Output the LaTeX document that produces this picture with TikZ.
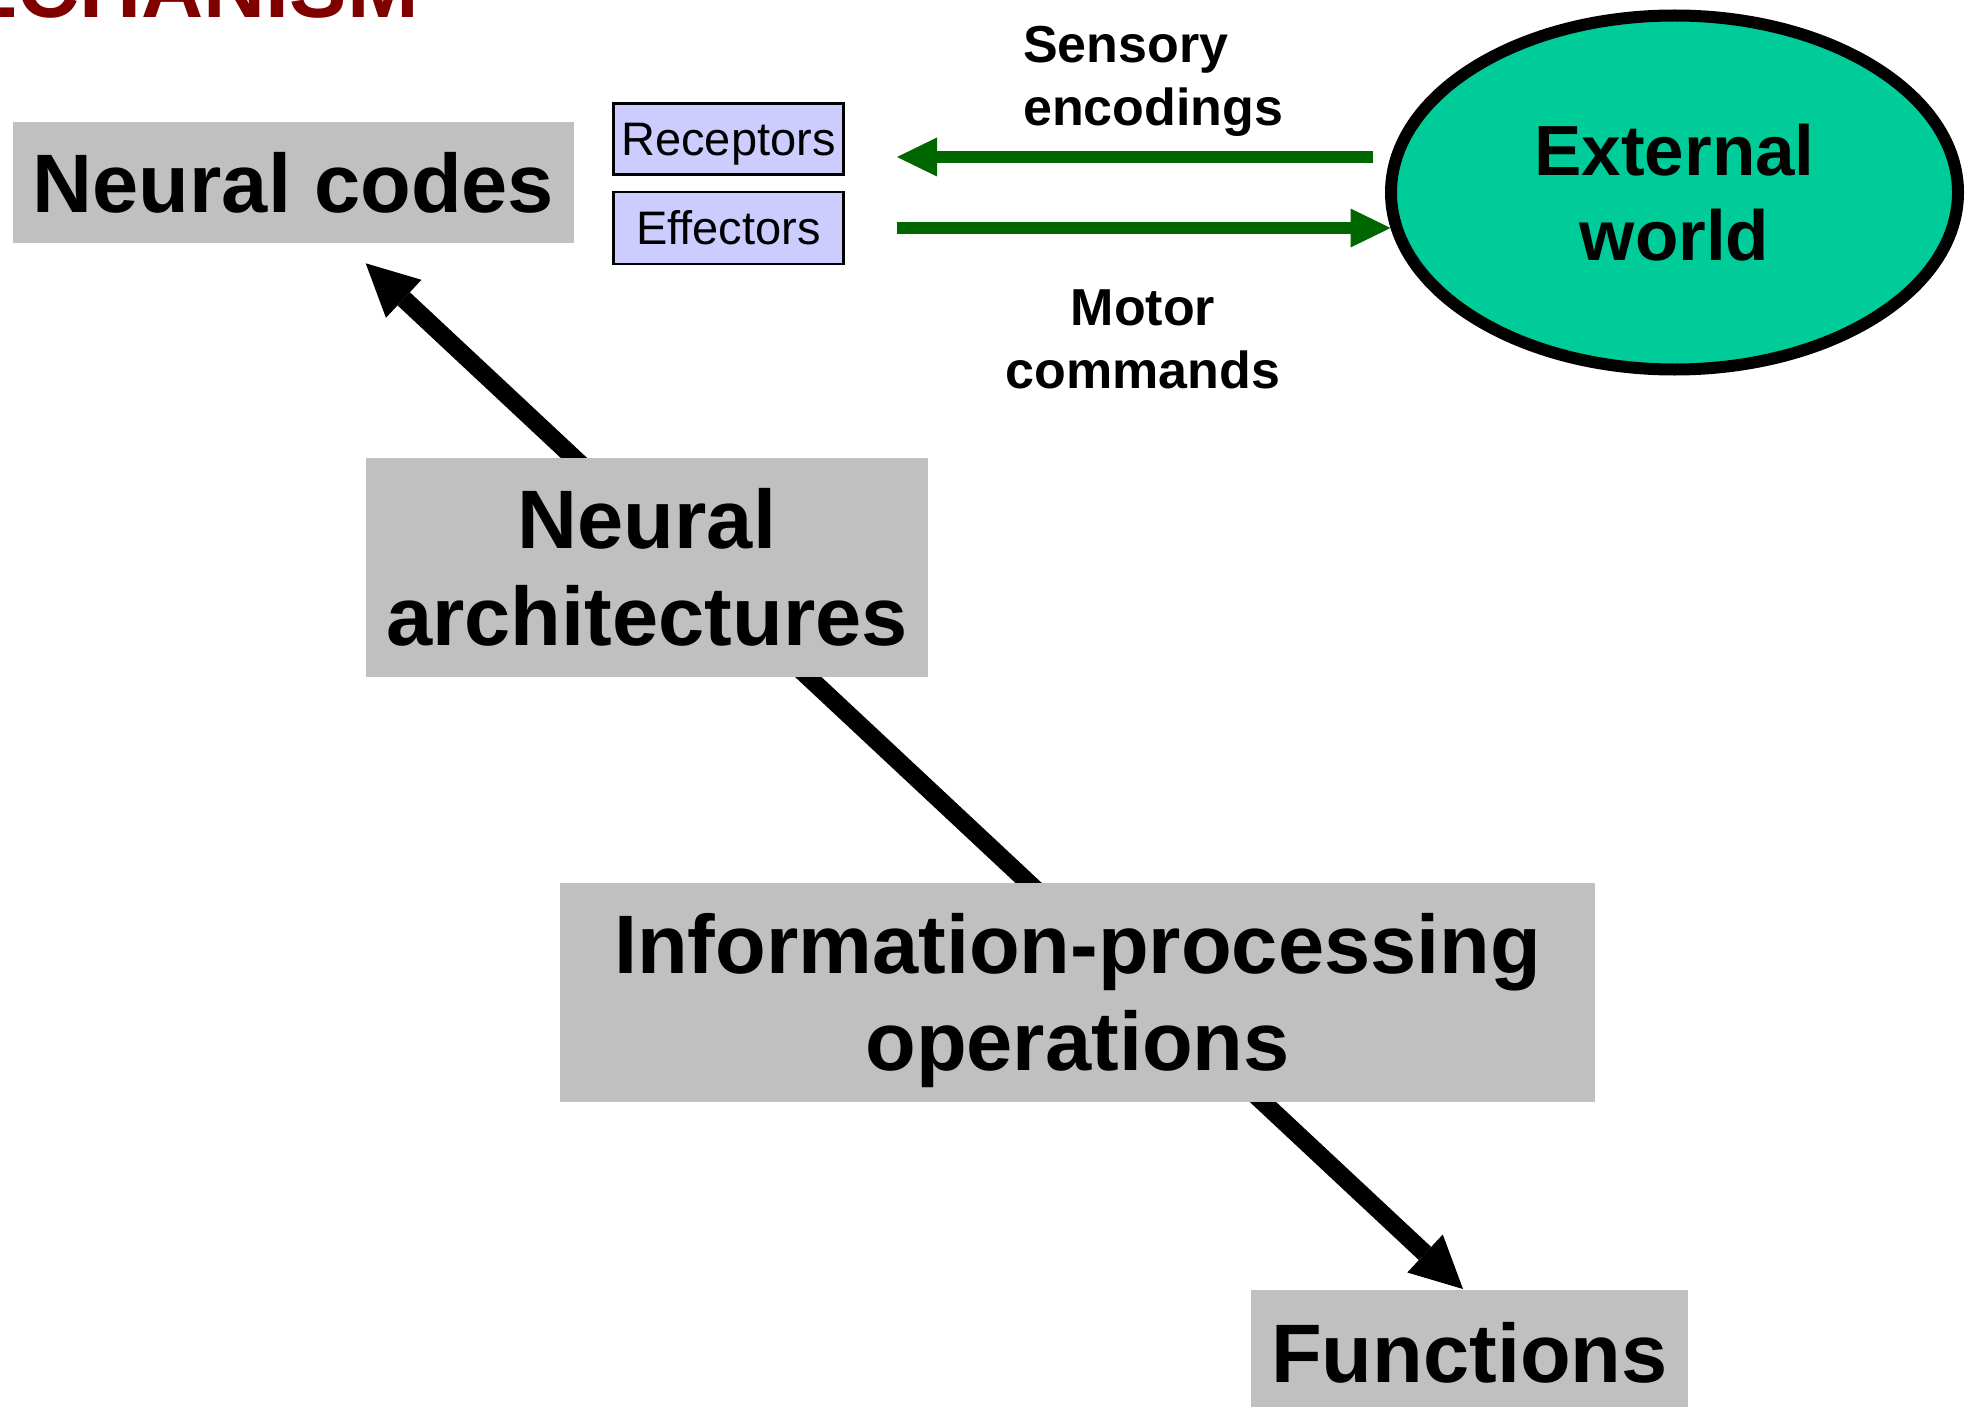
\documentclass[tikz,border=0pt]{standalone}
\usepackage{fontspec}
\setmainfont{Liberation Sans}
\usetikzlibrary{arrows.meta,shapes.geometric}

\definecolor{boxgray}{HTML}{C0C0C0}
\definecolor{organfill}{HTML}{CCCCFF}
\definecolor{signalgreen}{HTML}{006600}
\definecolor{worldfill}{HTML}{00CC99}
\definecolor{titlered}{HTML}{800000}

\tikzset{
  graybox/.style={fill=boxgray, inner sep=0pt, align=center,
    font=\fontsize{83}{97}\selectfont\bfseries,
    text height=59.4pt, text depth=0pt},
  twolines/.style={text height=156.4pt},
  organbox/.style={fill=organfill, draw=black, line width=2.5pt, inner sep=0pt,
    minimum width=230pt, minimum height=71pt,
    font=\fontsize{47}{56}\selectfont, text height=33.7pt, text depth=0pt},
  sidelabel/.style={inner sep=0pt, font=\fontsize{52}{63}\selectfont\bfseries,
    text height=100.2pt, text depth=0pt},
  signal/.style={draw=signalgreen, line width=12.7pt,
    -{Triangle[length=40pt,width=39pt,line width=0pt]}},
  levelarrow/.style={draw=black, line width=18pt,
    {Triangle[length=52pt,width=52pt,line width=0pt]}-{Triangle[length=52pt,width=52pt,line width=0pt]}},
}

\begin{document}
\begin{tikzpicture}[x=1pt,y=-1pt]
\useasboundingbox (0,0) rectangle (1977,1407);
\clip (0,0) rectangle (1977,1407);

% heading, partly above the page edge
\node[anchor=base east, inner sep=0pt, text=titlered,
  font=\fontsize{86}{100}\selectfont\bfseries] (heading) at (419,18) {MECHANISM};

% the long two-headed arrow runs behind the level boxes
\coordinate (codestip) at (365.7,263.3);
\coordinate (functip) at (1463,1289);
\draw[levelarrow] (codestip) -- (functip);

% levels
\node[graybox, minimum width=561pt, minimum height=121pt] (codes) at (293.5,182.5) {Neural codes};
\node[graybox, twolines, minimum width=562pt, minimum height=219pt] (arch) at (647,567.5) {Neural\\architectures};
\node[graybox, twolines, minimum width=1035pt, minimum height=219pt] (info) at (1077.5,992.5) {Information-processing\\operations};
\node[graybox, minimum width=437pt, minimum height=125pt] (func) at (1469.5,1352.5) {Functions};

% sense organs and effectors
\node[organbox] (recep) at (728.5,139) {Receptors};
\node[organbox, minimum height=72pt] (effect) at (728.5,228) {Effectors};

% the environment
\node[ellipse, draw=black, line width=12pt, fill=worldfill, inner sep=0pt,
  minimum width=567pt, minimum height=354pt, align=center,
  font=\fontsize{71}{85}\selectfont\bfseries, text height=135.8pt, text depth=0pt]
  (world) at (1674.5,192.5) {External\\world};

% signal paths between the organism and the world
\coordinate (sensfrom) at (1373,157);
\coordinate (sensto) at (897,157);
\coordinate (motfrom) at (897,228);
\coordinate (motto) at (1390.5,228);
\draw[signal] (sensfrom) -- (sensto);
\draw[signal] (motfrom) -- (motto);

\node[sidelabel, anchor=west, align=left] (senslabel) at (1023,75.5) {Sensory\\encodings};
\node[sidelabel, align=center] (motlabel) at (1143,338) {Motor\\commands};
\end{tikzpicture}
\end{document}
